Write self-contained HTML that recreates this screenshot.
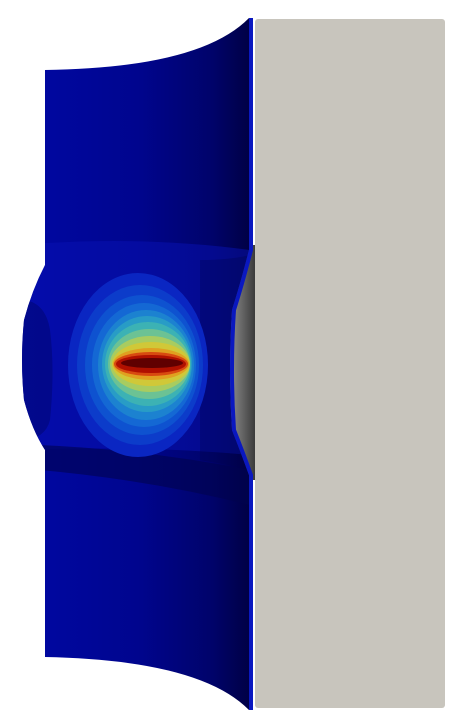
<!DOCTYPE html>
<html><head><meta charset="utf-8"><style>
html,body{margin:0;padding:0;background:#fff;width:475px;height:728px;overflow:hidden}
</style></head><body>
<svg width="475" height="728" viewBox="0 0 475 728" xmlns="http://www.w3.org/2000/svg">
<defs>
<linearGradient id="tube" x1="0" x2="1" y1="0" y2="0">
<stop offset="0" stop-color="#0008a4"/>
<stop offset="0.5" stop-color="#00058e"/>
<stop offset="0.82" stop-color="#00036a"/>
<stop offset="1" stop-color="#000040"/>
</linearGradient>
<linearGradient id="groove" x1="0" x2="1">
<stop offset="0" stop-color="#a0a0a0"/><stop offset="1" stop-color="#3a3a3a"/>
</linearGradient>
<clipPath id="tc"><path d="M45,70 Q200,68 249,18 L249,250 Q240,285 232,310 Q228,370 232,430 Q240,450 249,475 L249,710 Q200,660 45,657 L45,450 Q32,430 24,400 Q20,360 24,320 Q32,290 45,265 Z"/></clipPath>
</defs>
<rect x="255" y="19" width="190" height="689" rx="3" fill="#c8c5bd"/>
<rect x="225" y="245" width="30" height="235" fill="url(#groove)"/>
<g clip-path="url(#tc)">
<rect x="20" y="10" width="235" height="710" fill="url(#tube)"/>
<path d="M20,245 Q140,235 250,250 L250,455 Q140,445 20,450 Z" fill="#0712b4" opacity="0.5"/>
<path d="M20,300 Q45,300 50,330 Q55,370 50,420 Q45,440 20,440 Z" fill="#000565" opacity="0.45"/>
<path d="M40,445 Q150,450 250,470 L250,505 Q150,480 40,470 Z" fill="#00034e" opacity="0.6"/>
<path d="M200,260 Q230,260 250,255 L250,470 Q230,465 200,460 Z" fill="#00024a" opacity="0.3"/>
<g>
<ellipse cx="138" cy="365" rx="70" ry="92" fill="#0a26c2"/>
<ellipse cx="140" cy="365" rx="63" ry="80" fill="#0c3cca"/>
<ellipse cx="142" cy="365" rx="57" ry="70" fill="#0e52d0"/>
<ellipse cx="144" cy="365" rx="52" ry="62" fill="#1468d4"/>
<ellipse cx="146" cy="365" rx="48" ry="55" fill="#1c82d0"/>
<ellipse cx="147" cy="364" rx="45" ry="48" fill="#289cc6"/>
<ellipse cx="148" cy="364" rx="43" ry="42" fill="#3cb2b4"/>
<ellipse cx="149" cy="364" rx="41" ry="35" fill="#6cc294"/>
<ellipse cx="150" cy="364" rx="40" ry="28" fill="#a8cc60"/>
<ellipse cx="151" cy="364" rx="39" ry="22" fill="#d0c838"/>
<ellipse cx="151" cy="364" rx="38" ry="16" fill="#e0a020"/>
<ellipse cx="151" cy="364" rx="37" ry="12" fill="#d84a10"/>
<ellipse cx="151" cy="364" rx="35" ry="9" fill="#b01000"/>
<ellipse cx="152" cy="363" rx="31" ry="5" fill="#600000"/>
</g>
</g>
<path d="M251,18 L251,250 Q242,285 234,310 Q230,370 234,430 Q242,450 251,475 L251,710" fill="none" stroke="#0a18c0" stroke-width="4"/>
</svg>
</body></html>
